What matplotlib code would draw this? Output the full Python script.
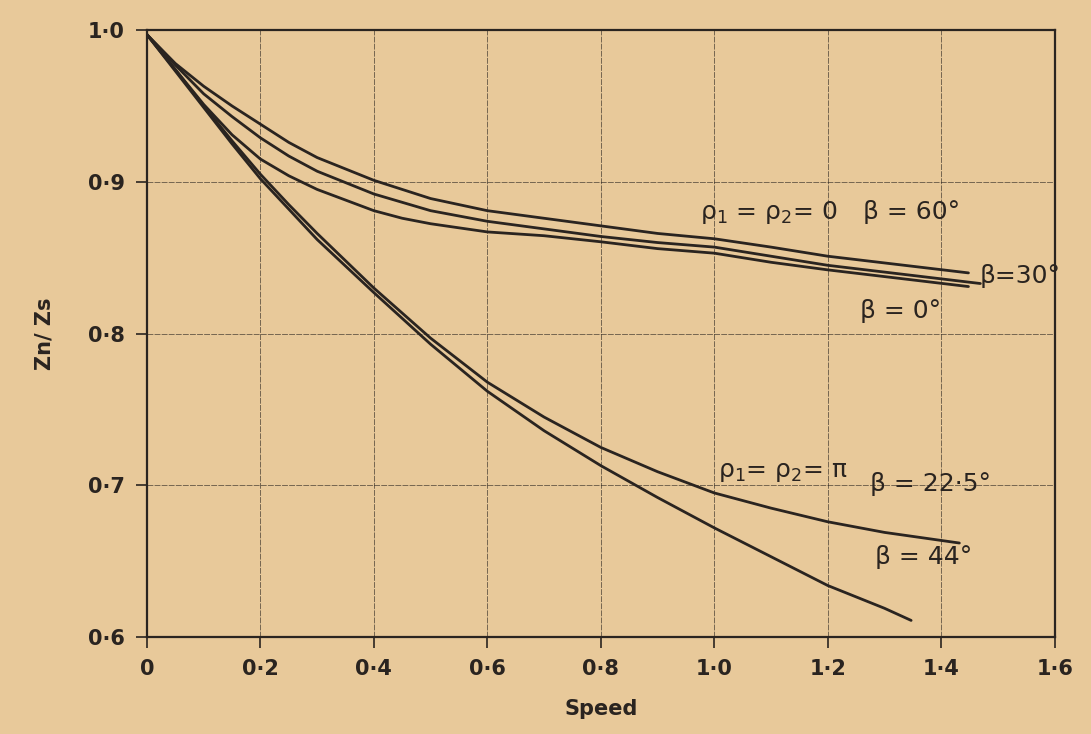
import matplotlib.pyplot as plt

# upper group: rho1 = rho2 = 0
x_b60 = [0, 0.05, 0.1, 0.15, 0.2, 0.25, 0.3, 0.4, 0.5, 0.6, 0.7, 0.8, 0.9, 1.0, 1.1, 1.2, 1.448]
b60 = [0.997, 0.978, 0.963, 0.950, 0.938, 0.926, 0.916, 0.901, 0.889, 0.881, 0.876,
       0.871, 0.866, 0.8625, 0.857, 0.851, 0.840]
x_b30 = [0, 0.05, 0.1, 0.15, 0.2, 0.25, 0.3, 0.4, 0.5, 0.6, 0.7, 0.8, 0.9, 1.0, 1.1, 1.2, 1.469]
b30 = [0.997, 0.977, 0.958, 0.943, 0.929, 0.917, 0.907, 0.892, 0.881, 0.874, 0.869,
       0.864, 0.860, 0.857, 0.851, 0.845, 0.833]
x_b0 = [0, 0.05, 0.1, 0.15, 0.2, 0.25, 0.3, 0.4, 0.45, 0.5, 0.6, 0.7, 0.8, 0.9, 1.0, 1.1, 1.2, 1.448]
b0 = [0.997, 0.974, 0.951, 0.931, 0.915, 0.904, 0.895, 0.881, 0.876, 0.8724, 0.867, 0.8645,
      0.8605, 0.856, 0.853, 0.847, 0.842, 0.831]

# lower group: rho1 = rho2 = pi
x_b22 = [0, 0.05, 0.1, 0.15, 0.2, 0.25, 0.3, 0.4, 0.5, 0.6, 0.7, 0.8, 0.9, 1.0, 1.1, 1.2, 1.3, 1.432]
b22 = [0.997, 0.974, 0.950, 0.927, 0.905, 0.885, 0.866, 0.830, 0.797, 0.768, 0.745,
       0.725, 0.709, 0.695, 0.685, 0.676, 0.669, 0.662]
x_b44 = [0, 0.05, 0.1, 0.15, 0.2, 0.25, 0.3, 0.4, 0.5, 0.6, 0.7, 0.8, 0.9, 1.0, 1.1, 1.2, 1.3, 1.347]
b44 = [0.997, 0.973, 0.949, 0.925, 0.902, 0.882, 0.862, 0.827, 0.793, 0.762, 0.736,
       0.713, 0.692, 0.672, 0.653, 0.634, 0.619, 0.611]

xticks = [0, 0.2, 0.4, 0.6, 0.8, 1.0, 1.2, 1.4, 1.6]
xlabels = ['0', '0·2', '0·4', '0·6', '0·8', '1·0', '1·2', '1·4', '1·6']
yticks = [0.6, 0.7, 0.8, 0.9, 1.0]
ylabels = ['0·6', '0·7', '0·8', '0·9', '1·0']

paper = '#e8c99a'
ink = '#2a2420'

fig = plt.figure(figsize=(10.91, 7.34), dpi=100, facecolor=paper)
ax = fig.add_axes([0.1347, 0.132, 0.832, 0.827], facecolor=paper)

for xs, ys in [(x_b60, b60), (x_b30, b30), (x_b0, b0), (x_b22, b22), (x_b44, b44)]:
    ax.plot(xs, ys, color=ink, lw=2.0, solid_capstyle='round', solid_joinstyle='round')

ax.set_xlim(0, 1.6)
ax.set_ylim(0.6, 1.0)
ax.set_xticks(xticks)
ax.set_xticklabels(xlabels)
ax.set_yticks(yticks)
ax.set_yticklabels(ylabels)
ax.grid(True, color=ink, lw=0.6, ls=(0, (7, 1.5)), alpha=0.7)
for s in ax.spines.values():
    s.set_color(ink)
    s.set_linewidth(1.6)
ax.tick_params(colors=ink, length=8, width=1.2, labelsize=15, pad=8)
for lab in ax.get_xticklabels() + ax.get_yticklabels():
    lab.set_fontweight('bold')

ax.set_xlabel('Speed', fontsize=15, fontweight='bold', color=ink, labelpad=14)
ax.set_ylabel('Zn/ Zs', fontsize=15, fontweight='bold', color=ink, labelpad=24)

tk = dict(color=ink, fontsize=18, va='center', ha='left')
ax.text(0.974, 0.880, 'ρ$_1$ = ρ$_2$= 0', **tk)
ax.text(1.262, 0.880, 'β = 60°', **tk)
ax.text(1.468, 0.838, 'β=30°', **tk)
ax.text(1.256, 0.815, 'β = 0°', **tk)
ax.text(1.006, 0.709, 'ρ$_1$= ρ$_2$= π', **tk)
ax.text(1.274, 0.701, 'β = 22·5°', **tk)
ax.text(1.283, 0.653, 'β = 44°', **tk)

fig.savefig('out.png', dpi=100, facecolor=paper)
